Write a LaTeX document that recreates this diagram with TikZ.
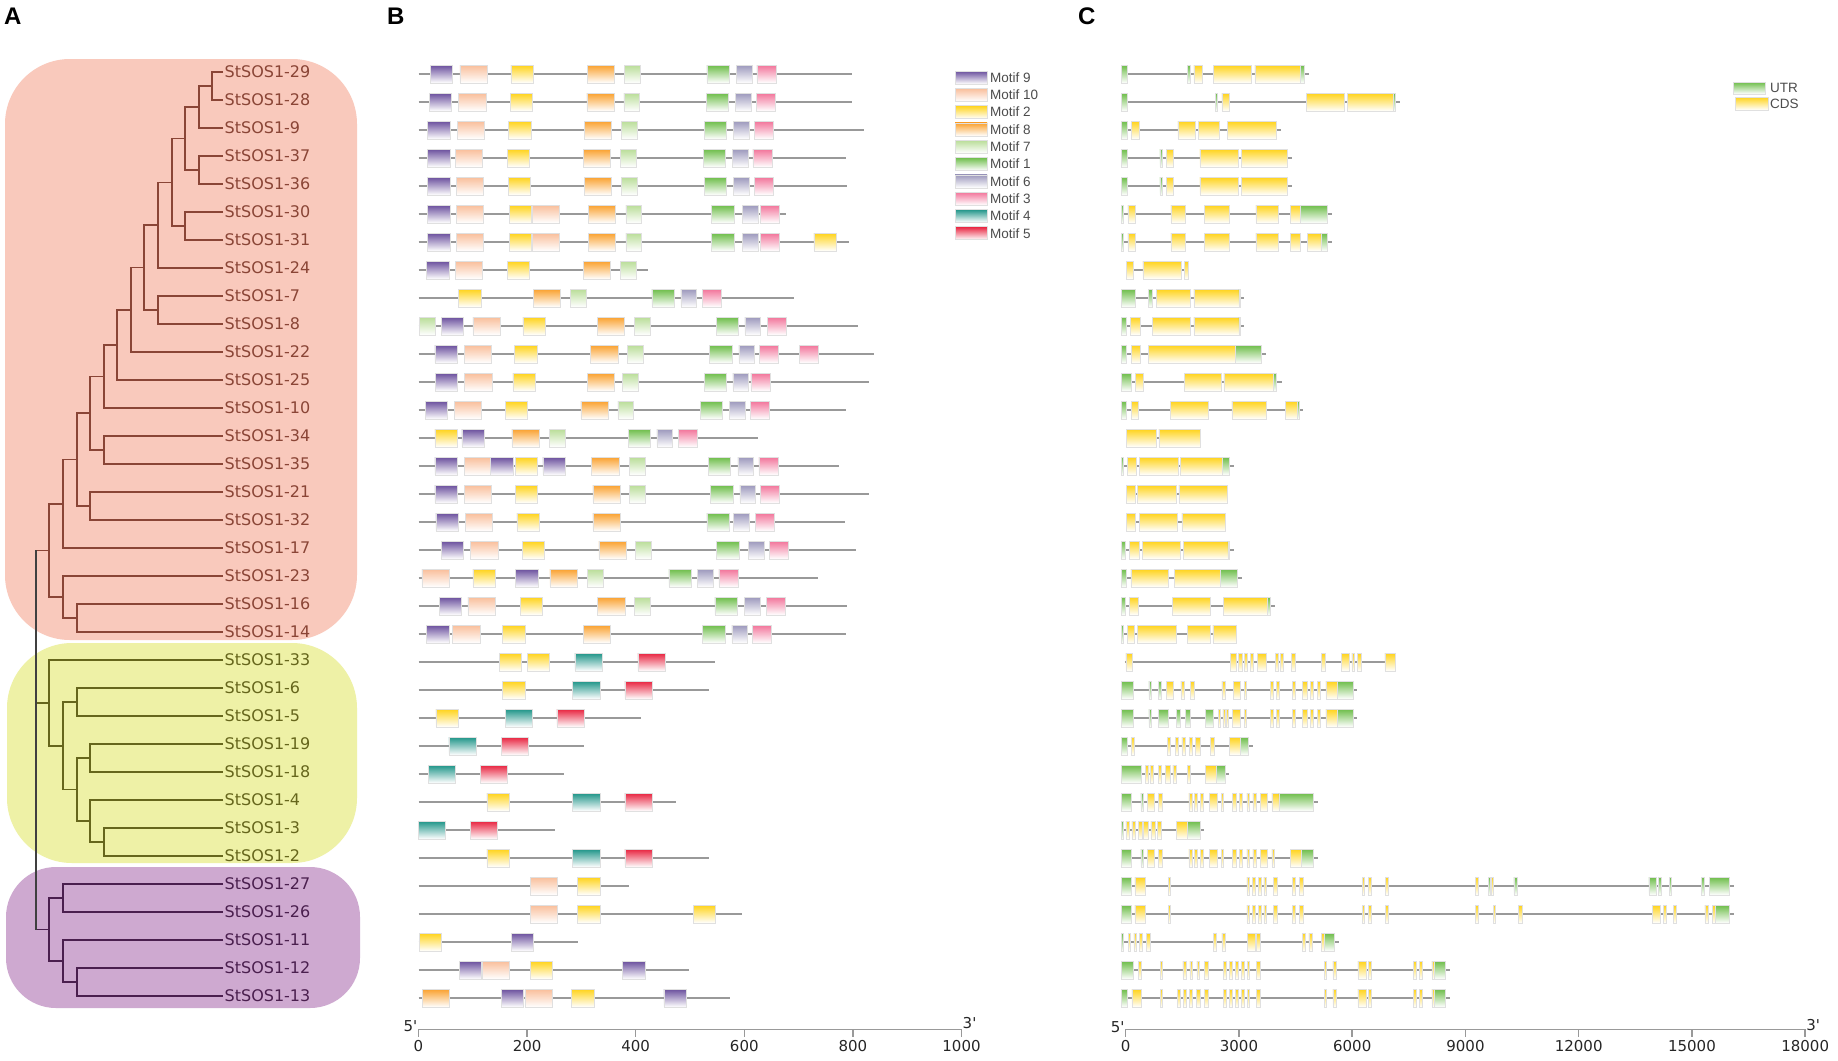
\documentclass[tikz,border=0pt]{standalone}
\usepackage{fontspec}
\setmainfont{DejaVu Sans}
\newfontfamily\legfont{Liberation Sans}
\usetikzlibrary{calc}

\definecolor{bgred}{HTML}{F9C9BC}
\definecolor{bgyel}{HTML}{EEF1A6}
\definecolor{bgpur}{HTML}{CEA9D0}
\definecolor{brred}{HTML}{8A4536}
\definecolor{bryel}{HTML}{66661C}
\definecolor{brpur}{HTML}{4A1F4E}
\definecolor{mot1}{HTML}{6DBD49}
\definecolor{mot2}{HTML}{FFD31A}
\definecolor{mot3}{HTML}{F2749A}
\definecolor{mot4}{HTML}{1E9488}
\definecolor{mot5}{HTML}{E8233F}
\definecolor{mot6}{HTML}{9C98BC}
\definecolor{mot7}{HTML}{B9DD98}
\definecolor{mot8}{HTML}{FAA12E}
\definecolor{mot9}{HTML}{6A4F9D}
\definecolor{mot10}{HTML}{F9BE9A}
\definecolor{utr}{HTML}{6DBD49}
\definecolor{cds}{HTML}{FFD31A}

% clade: name, x of the fork, upper child, lower child
\newcommand{\clade}[4]{%
  \coordinate (#1m) at ($(#3)!0.5!(#4)$);
  \coordinate (#1) at (#2,0 |- #1m);
  \draw [branch] (#3) -| (#1) |- (#4);
}
% protein: row, length, start/motif
\newcommand{\prot}[3]{%
  \draw [gene] (0,#1) -- (#2,#1);
  \foreach \s/\m in {#3} {
    \pgfmathsetmacro{\w}{{0,41,41,35,50,50,29,29,50,41,50}[\m]}
    \draw [box=mot\m] (\s,#1-0.32) rectangle (\s+\w,#1+0.32);
  }
}
% gene: row, line start, line end, start/end/kind (kb)
\newcommand{\gene}[4]{%
  \draw [gene] (#2,#1) -- (#3,#1);
  \foreach \s/\e/\kind in {#4}
    \draw [exon \kind] (\s,#1-0.32) rectangle (\e,#1+0.32);
}

\begin{document}
\begin{tikzpicture}[x=1pt, y=-1pt,
  leaf/.style={anchor=west, inner sep=1.5pt, font=\fontsize{16}{18}\selectfont},
  branch/.style={line width=1.5pt},
  gene/.style={draw=black!40, line width=2pt},
  box/.style={draw=black!12, line width=0.5pt, top color=#1, bottom color=white, middle color=#1!50!white},
  exon u/.style={box=utr},
  exon c/.style={box=cds},
  scalebar/.style={draw=black!40, line width=1.5pt},
  ticklab/.style={font=\fontsize{15}{17}\selectfont, text=black!85},
  legtext/.style={anchor=west, inner sep=1pt, font=\legfont\fontsize{13.5}{15}\selectfont, text=black!70},
  panel/.style={anchor=west, inner sep=0pt, font=\legfont\bfseries\fontsize{24}{26}\selectfont}]

\useasboundingbox (0,0) rectangle (1838,1060);
\fill [white] (0,0) rectangle (1838,1060);

\node [panel] (pa) at (4,16) {A};
\node [panel] (pb) at (387,16) {B};
\node [panel] (pc) at (1078,16) {C};

% tree
\fill [bgred, rounded corners=65pt] (5,59) rectangle (357,640);
\fill [bgyel, rounded corners=65pt] (7,643) rectangle (357,863);
\fill [bgpur, rounded corners=50pt] (6,867) rectangle (360,1008);

\begin{scope}[color=brred]
  \foreach \n [count=\i from 0] in {29,28,9,37,36,30,31,24,7,8,22,25,10,34,35,21,32,17,23,16,14}
    \node [leaf] (t\n) at (223, {72+28*\i}) {StSOS1-\n};
  \clade{c1}{212}{t29.west}{t28.west}
  \clade{c2}{199}{c1}{t9.west}
  \clade{c3}{199}{t37.west}{t36.west}
  \clade{c4}{185}{c2}{c3}
  \clade{c5}{185}{t30.west}{t31.west}
  \clade{c6}{172}{c4}{c5}
  \clade{c7}{158}{c6}{t24.west}
  \clade{c8}{158}{t7.west}{t8.west}
  \clade{c9}{144}{c7}{c8}
  \clade{c10}{131}{c9}{t22.west}
  \clade{c11}{117}{c10}{t25.west}
  \clade{c12}{104}{c11}{t10.west}
  \clade{c13}{104}{t34.west}{t35.west}
  \clade{c14}{90}{c12}{c13}
  \clade{c15}{90}{t21.west}{t32.west}
  \clade{c16}{77}{c14}{c15}
  \clade{c17}{63}{c16}{t17.west}
  \clade{c18}{77}{t16.west}{t14.west}
  \clade{c19}{63}{t23.west}{c18}
  \clade{c20}{49}{c17}{c19}
  \coordinate (rtop) at (36,0 |- c20);
  \draw [branch] (c20) -- (rtop);
\end{scope}

\begin{scope}[color=bryel]
  \foreach \n [count=\i from 21] in {33,6,5,19,18,4,3,2}
    \node [leaf] (t\n) at (223, {72+28*\i}) {StSOS1-\n};
  \clade{y1}{77}{t6.west}{t5.west}
  \clade{y2}{90}{t19.west}{t18.west}
  \clade{y3}{104}{t3.west}{t2.west}
  \clade{y4}{90}{t4.west}{y3}
  \clade{y5}{77}{y2}{y4}
  \clade{y6}{63}{y1}{y5}
  \clade{y7}{49}{t33.west}{y6}
  \coordinate (rmid) at (36,0 |- y7);
  \draw [branch] (y7) -- (rmid);
\end{scope}

\begin{scope}[color=brpur]
  \foreach \n [count=\i from 29] in {27,26,11,12,13}
    \node [leaf] (t\n) at (223, {72+28*\i}) {StSOS1-\n};
  \clade{p1}{63}{t27.west}{t26.west}
  \clade{p2}{77}{t12.west}{t13.west}
  \clade{p3}{63}{t11.west}{p2}
  \clade{p4}{49}{p1}{p3}
  \coordinate (rbot) at (36,0 |- p4);
  \draw [branch] (p4) -- (rbot);
\end{scope}
\draw [branch, black!75] (rtop) -- (rbot);

% motifs
\begin{scope}[shift={(418.5,74)}, x=0.543pt, y=-28pt]
  \prot{0}{799}{22/9,76/10,170/2,311/8,379/7,531/1,585/6,623/3}
  \prot{1}{799}{20/9,74/10,169/2,310/8,378/7,530/1,584/6,622/3}
  \prot{2}{820}{17/9,71/10,166/2,305/8,374/7,526/1,580/6,618/3}
  \prot{3}{788}{17/9,68/10,163/2,303/8,372/7,524/1,578/6,616/3}
  \prot{4}{790}{17/9,70/10,165/2,305/8,373/7,526/1,580/6,618/3}
  \prot{5}{676}{17/9,70/10,167/2,209/10,313/8,382/7,540/1,596/6,629/3}
  \prot{6}{792}{17/9,70/10,167/2,209/10,313/8,382/7,540/1,596/6,629/3,728/2}
  \prot{7}{422}{15/9,68/10,163/2,303/8,372/7}
  \prot{8}{691}{74/2,211/8,279/7,430/1,483/6,523/3}
  \prot{9}{810}{2/7,42/9,100/10,192/2,329/8,397/7,548/1,601/6,642/3}
  \prot{10}{838}{30/9,84/10,177/2,317/8,385/7,536/1,590/6,628/3,701/3}
  \prot{11}{829}{31/9,85/10,174/2,311/8,376/7,526/1,579/6,612/3}
  \prot{12}{787}{12/9,66/10,160/2,299/8,367/7,519/1,573/6,611/3}
  \prot{13}{626}{30/2,80/9,172/8,241/7,386/1,439/6,479/3}
  \prot{14}{774}{30/9,84/10,133/9,178/2,229/9,319/8,388/7,534/1,588/6,627/3}
  \prot{15}{829}{30/9,84/10,178/2,321/8,388/7,538/1,592/6,630/3}
  \prot{16}{786}{32/9,86/10,181/2,321/8,531/1,580/6,620/3}
  \prot{17}{805}{42/9,96/10,191/2,332/8,399/7,549/1,607/6,646/3}
  \prot{18}{735}{6/10,100/2,179/9,242/8,311/7,461/1,514/6,553/3}
  \prot{19}{790}{38/9,91/10,187/2,330/8,398/7,546/1,600/6,640/3}
  \prot{20}{788}{15/9,63/10,155/2,303/8,523/1,577/6,615/3}
  \prot{21}{546}{149/2,200/2,288/4,404/5}
  \prot{22}{535}{155/2,284/4,380/5}
  \prot{23}{410}{32/2,160/4,255/5}
  \prot{24}{305}{56/4,152/5}
  \prot{25}{268}{18/4,114/5}
  \prot{26}{475}{126/2,284/4,380/5}
  \prot{27}{251}{0/4,95/5}
  \prot{28}{535}{126/2,284/4,380/5}
  \prot{29}{387}{206/10,293/2}
  \prot{30}{596}{206/10,293/2,506/2}
  \prot{31}{293}{1/2,171/9}
  \prot{32}{498}{75/9,118/10,206/2,376/9}
  \prot{33}{574}{7/8,152/9,196/10,282/2,452/9}

  \draw [scalebar] (0,34.12) -- (1000,34.12);
  \foreach \v in {0,200,...,1000}
    \draw [scalebar] (\v,34.12) -- (\v,34.38) node [ticklab, below] (tb\v) {\v};
  \node [ticklab, left, inner sep=1pt] (b5) at (0,34.0) {5\textquotesingle};
  \node [ticklab, right, inner sep=1pt] (b3) at (1000,33.9) {3\textquotesingle};
\end{scope}

\foreach \m [count=\k from 0] in {9,10,2,8,7,1,6,3,4,5} {
  \draw [box=mot\m] (955, {71+17.3*\k}) rectangle (987, {84+17.3*\k});
  \node [legtext] (lm\m) at (989, {77.5+17.3*\k}) {Motif \m};
}

% gene structures
\begin{scope}[shift={(1121.6,74)}, x=37.75pt, y=-28pt]
  \gene{0}{0}{4.97}{0/0.146/u, 1.751/1.815/u, 1.915/2.134/c, 2.435/3.438/c, 3.529/4.742/c, 4.742/4.833/u}
  \gene{1}{0}{7.37}{0/0.146/u, 2.481/2.545/u, 2.654/2.864/c, 4.888/5.910/c, 5.974/7.205/c, 7.205/7.25/u}
  \gene{2}{0}{4.213}{0/0.146/u, 0.264/0.456/c, 1.487/1.952/c, 2.043/2.590/c, 2.800/4.095/c}
  \gene{3}{0}{4.505}{0/0.146/u, 1.012/1.076/u, 1.176/1.368/c, 2.070/3.091/c, 3.164/4.377/c}
  \gene{4}{0}{4.505}{0/0.146/u, 1.012/1.076/u, 1.176/1.368/c, 2.070/3.091/c, 3.164/4.377/c}
  \gene{5}{0}{5.573}{0/0.055/u, 0.164/0.365/c, 1.304/1.678/c, 2.189/2.864/c, 3.557/4.150/c, 4.478/4.733/c, 4.733/5.436/u}
  \gene{6}{0}{5.573}{0/0.055/u, 0.164/0.365/c, 1.304/1.678/c, 2.189/2.864/c, 3.557/4.150/c, 4.478/4.733/c, 4.925/5.281/c, 5.281/5.436/u}
  \gene{7}{0.119}{1.769}{0.119/0.310/c, 0.565/1.578/c, 1.669/1.769/c}
  \gene{8}{0}{3.246}{0/0.374/u, 0.711/0.812/u, 0.930/1.824/c, 1.915/3.109/c, 3.109/3.137/u}
  \gene{9}{0}{3.246}{0/0.110/u, 0.237/0.501/c, 0.821/1.824/c, 1.915/3.109/c, 3.109/3.137/u}
  \gene{10}{0}{3.830}{0/0.128/u, 0.255/0.483/c, 0.702/3.009/c, 3.009/3.694/u}
  \gene{11}{0}{4.240}{0/0.246/u, 0.356/0.583/c, 1.669/2.627/c, 2.709/4.012/c, 4.012/4.104/u}
  \gene{12}{0}{4.806}{0/0.128/u, 0.264/0.438/c, 1.286/2.298/c, 2.919/3.840/c, 4.340/4.660/c, 4.660/4.715/u}
  \gene{13}{0.119}{2.088}{0.119/0.912/c, 0.985/2.088/c}
  \gene{14}{0}{2.965}{0/0.037/u, 0.155/0.392/c, 0.474/1.487/c, 1.551/2.664/c, 2.664/2.855/u}
  \gene{15}{0.119}{2.800}{0.119/0.356/c, 0.420/1.441/c, 1.514/2.800/c}
  \gene{16}{0.119}{2.736}{0.119/0.356/c, 0.465/1.478/c, 1.596/2.736/c}
  \gene{17}{0}{2.973}{0/0.091/u, 0.210/0.465/c, 0.547/1.550/c, 1.642/2.818/c, 2.818/2.855/u}
  \gene{18}{0}{3.201}{0/0.128/u, 0.246/1.240/c, 1.395/2.608/c, 2.608/3.073/u}
  \gene{19}{0}{4.058}{0/0.091/u, 0.200/0.447/c, 1.341/2.353/c, 2.700/3.867/c, 3.867/3.931/u}
  \gene{20}{0}{3.046}{0/0.037/u, 0.146/0.337/c, 0.420/1.441/c, 1.742/2.335/c, 2.417/3.030/c}
  \gene{21}{0.087}{7.258}{0.112/0.274/c, 2.881/3.030/c, 3.093/3.192/c, 3.255/3.329/c, 3.417/3.492/c, 3.591/3.828/c, 4.078/4.140/c, 4.215/4.277/c, 4.502/4.589/c, 5.287/5.387/c, 5.823/6.023/c, 6.098/6.173/c, 6.248/6.335/c, 6.971/7.258/c}
  \gene{22}{0}{6.248}{0/0.299/u, 0.723/0.773/u, 0.973/1.060/u, 1.185/1.359/c, 1.571/1.671/c, 1.821/1.920/c, 2.656/2.743/c, 2.955/3.130/c, 3.255/3.305/c, 3.941/4.015/c, 4.103/4.177/c, 4.514/4.589/c, 4.789/4.913/c, 5.000/5.075/c, 5.188/5.262/c, 5.412/5.724/c, 5.724/6.123/u}
  \gene{23}{0}{6.248}{0/0.299/u, 0.723/0.773/u, 0.973/1.247/u, 1.446/1.559/u, 1.696/1.821/u, 2.220/2.419/u, 2.556/2.619/c, 2.681/2.743/c, 2.768/2.831/c, 2.930/3.142/c, 3.255/3.305/c, 3.941/4.015/c, 4.103/4.177/c, 4.514/4.589/c, 4.789/4.913/c, 5.000/5.075/c, 5.188/5.262/c, 5.412/5.724/c, 5.724/6.123/u}
  \gene{24}{0}{3.492}{0/0.150/u, 0.249/0.324/c, 1.222/1.297/c, 1.421/1.496/c, 1.596/1.683/c, 1.796/1.871/c, 1.958/2.070/c, 2.344/2.444/c, 2.856/3.142/c, 3.142/3.367/u}
  \gene{25}{0}{2.856}{0/0.524/u, 0.636/0.698/c, 0.748/0.848/c, 0.973/1.060/c, 1.160/1.297/c, 1.359/1.459/c, 1.733/1.808/c, 2.220/2.519/c, 2.519/2.743/u}
  \gene{26}{0}{5.200}{0/0.262/u, 0.511/0.574/u, 0.686/0.873/c, 0.973/1.085/c, 1.783/1.871/c, 1.933/1.995/c, 2.082/2.157/c, 2.320/2.531/c, 2.644/2.694/c, 2.943/3.030/c, 3.117/3.192/c, 3.317/3.392/c, 3.479/3.554/c, 3.666/3.866/c, 3.978/4.165/c, 4.165/5.075/u}
  \gene{27}{0}{2.195}{0/0.050/u, 0.112/0.199/c, 0.274/0.374/c, 0.449/0.549/c, 0.574/0.698/c, 0.773/0.885/c, 0.948/1.047/c, 1.446/1.746/c, 1.746/2.070/u}
  \gene{28}{0}{5.200}{0/0.262/u, 0.511/0.574/u, 0.686/0.873/c, 0.973/1.085/c, 1.783/1.871/c, 1.933/1.995/c, 2.082/2.157/c, 2.320/2.531/c, 2.644/2.694/c, 2.943/3.030/c, 3.117/3.192/c, 3.317/3.392/c, 3.479/3.554/c, 3.666/3.866/c, 3.978/4.040/c, 4.465/4.764/c, 4.764/5.075/u}
  \gene{29}{0}{16.211}{0/0.249/u, 0.349/0.636/c, 1.235/1.297/c, 3.317/3.392/c, 3.467/3.542/c, 3.616/3.691/c, 3.766/3.841/c, 4.028/4.115/c, 4.527/4.589/c, 4.714/4.813/c, 6.372/6.435/c, 6.534/6.609/c, 6.996/7.070/c, 9.365/9.440/c, 9.714/9.776/u, 9.789/9.839/c, 10.388/10.475/u, 13.966/14.153/u, 14.228/14.303/u, 14.515/14.565/u, 15.351/15.425/u, 15.562/16.086/u}
  \gene{30}{0}{16.211}{0/0.249/u, 0.349/0.636/c, 1.235/1.297/c, 3.317/3.392/c, 3.467/3.542/c, 3.616/3.691/c, 3.766/3.841/c, 4.028/4.115/c, 4.527/4.589/c, 4.714/4.813/c, 6.372/6.435/c, 6.534/6.609/c, 6.996/7.070/c, 9.365/9.440/c, 9.839/9.901/c, 10.512/10.612/c, 14.066/14.278/c, 14.353/14.440/c, 14.615/14.690/c, 15.450/15.538/c, 15.650/15.725/c, 15.725/16.086/u}
  \gene{31}{0}{5.761}{0/0.050/u, 0.175/0.237/c, 0.324/0.399/c, 0.474/0.549/c, 0.661/0.761/c, 2.432/2.506/c, 2.656/2.756/c, 3.329/3.529/c, 3.579/3.679/c, 4.789/4.863/c, 4.963/5.038/c, 5.300/5.362/c, 5.362/5.624/u}
  \gene{32}{0}{8.692}{0/0.299/u, 0.449/0.511/c, 1.022/1.085/c, 1.621/1.708/c, 1.808/1.870/c, 1.995/2.057/c, 2.195/2.282/c, 2.694/2.768/c, 2.856/2.930/c, 3.018/3.093/c, 3.167/3.242/c, 3.329/3.392/c, 3.579/3.679/c, 5.362/5.424/c, 5.599/5.686/c, 6.260/6.472/c, 6.534/6.609/c, 7.731/7.806/c, 7.893/7.968/c, 8.218/8.280/c, 8.280/8.567/u}
  \gene{33}{0}{8.692}{0/0.150/u, 0.274/0.511/c, 1.022/1.085/c, 1.484/1.546/c, 1.633/1.708/c, 1.796/1.870/c, 1.983/2.070/c, 2.195/2.282/c, 2.694/2.768/c, 2.856/2.930/c, 3.018/3.093/c, 3.167/3.242/c, 3.329/3.392/c, 3.579/3.679/c, 5.362/5.424/c, 5.599/5.686/c, 6.260/6.472/c, 6.534/6.609/c, 7.731/7.806/c, 7.893/7.968/c, 8.218/8.280/c, 8.280/8.567/u}
\end{scope}

\begin{scope}[shift={(1125.7,74)}, x=37.75pt, y=-28pt]
  \draw [scalebar] (0,34.12) -- (18,34.12);
  \foreach \v/\l in {0/0,3/3000,6/6000,9/9000,12/12000,15/15000,18/18000}
    \draw [scalebar] (\v,34.12) -- (\v,34.38) node [ticklab, below] (tc\v) {\l};
  \node [ticklab, left, inner sep=1pt] (c5) at (0,34.05) {5\textquotesingle};
  \node [ticklab, right, inner sep=1pt] (c3) at (18,33.95) {3\textquotesingle};
\end{scope}

\draw [box=utr] (1733,82) rectangle (1765,94);
\node [legtext] (lutr) at (1769,88) {UTR};
\draw [box=cds] (1735,97) rectangle (1768,110);
\node [legtext] (lcds) at (1769,103.5) {CDS};

\end{tikzpicture}
\end{document}
